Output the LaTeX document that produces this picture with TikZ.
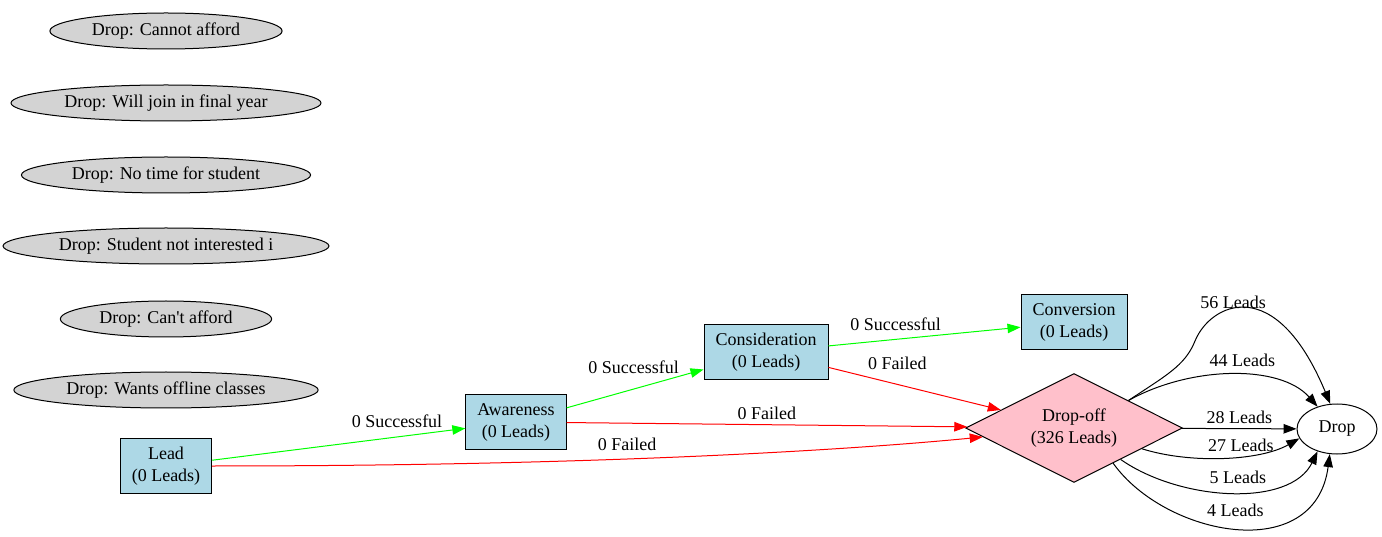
\documentclass[tikz,border=0pt]{standalone}
\usepackage{fontspec}
\setmainfont{Liberation Serif}
\usetikzlibrary{shapes.geometric,arrows.meta}
\definecolor{stageblue}{HTML}{ADD8E6}
\definecolor{droppink}{HTML}{FFC0CB}
\definecolor{reasongray}{HTML}{D3D3D3}
\definecolor{okgreen}{HTML}{00FF00}
\definecolor{failred}{HTML}{FF0000}
\begin{document}
\begin{tikzpicture}[x=1pt,y=1pt,line width=1pt,
  every node/.style={font=\fontsize{18}{22}\selectfont},
  stage/.style={draw,fill=stageblue,align=center,inner xsep=11.5pt,inner ysep=2pt,minimum height=55pt},
  reason/.style={draw,ellipse,fill=reasongray,inner xsep=8pt,inner ysep=2.5pt,minimum height=36pt},
  flow/.style={-{Triangle[length=13pt,width=9.5pt]}},
  lbl/.style={inner sep=0pt,text=black}]
 \useasboundingbox (0,0) rectangle (1382,536);
 % drop reasons
 \foreach \n/\t/\y in {cannot/Cannot afford/505,final/Will join in final year/433,
   notime/No time for student/361,notint/Student not interested i/290,
   cant/Can\textquotesingle t afford/217,offline/Wants offline classes/146}
  \node [reason] (\n) at (166,\y) {Drop: \t};
 % funnel
 \node [stage] (lead) at (166,70) {Lead\\(0 Leads)};
 \node [stage] (aware) at (516,114) {Awareness\\(0 Leads)};
 \node [stage] (consid) at (766,184) {Consideration\\(0 Leads)};
 \node [stage] (convert) at (1074,214) {Conversion\\(0 Leads)};
 \node [draw,diamond,aspect=2,fill=droppink,inner sep=0pt,minimum width=217pt,minimum height=109pt,align=center]
  (dropoff) at (1074,108) {Drop-off\\(326 Leads)};
 \node [draw,ellipse,minimum width=80pt,minimum height=50pt] (drop) at (1337,107) {Drop};
 \draw [flow,okgreen] (lead) -- node [lbl,pos=0.73,yshift=16pt] {0 Successful} (aware);
 \draw [flow,failred] (lead) .. controls (620,70) and (870,88) ..
  node [lbl,pos=0.4,yshift=15pt] {0 Failed} (dropoff);
 \draw [flow,okgreen] (aware) -- node [lbl,pos=0.49,yshift=21.6pt] {0 Successful} (consid);
 \draw [flow,failred] (aware) -- node [lbl,pos=0.5,yshift=11.2pt] {0 Failed} (dropoff);
 \draw [flow,okgreen] (consid) -- node [lbl,pos=0.35,yshift=15.4pt] {0 Successful} (convert);
 \draw [flow,failred] (consid) -- node [lbl,pos=0.4,yshift=20.7pt] {0 Failed} (dropoff);
 % drop-off to drop
 \draw [flow] (dropoff.north east) .. controls (1165,160) and (1185,170) .. (1195,195)
  .. controls (1210,232) and (1275,265) .. node [lbl,pos=0.4,yshift=7pt] {56 Leads} (drop.105);
 \draw [flow] (dropoff.north east) .. controls (1190,170) and (1280,172) ..
  node [lbl,pos=0.55,yshift=15pt] {44 Leads} (drop.131);
 \draw [flow] (dropoff) -- node [lbl,pos=0.5,yshift=11pt] {28 Leads} (drop);
 \draw [flow] (dropoff.-17) .. controls (1190,72) and (1260,75) ..
  node [lbl,pos=0.6,yshift=11pt] {27 Leads} (drop.194);
 \draw [flow] (dropoff.-34) .. controls (1180,35) and (1290,28) ..
  node [lbl,pos=0.53,yshift=15pt] {5 Leads} (drop.229);
 \draw [flow] (dropoff.-42) .. controls (1165,0) and (1315,-30) ..
  node [lbl,pos=0.5,yshift=17.7pt] {4 Leads} (drop.254);
\end{tikzpicture}
\end{document}
